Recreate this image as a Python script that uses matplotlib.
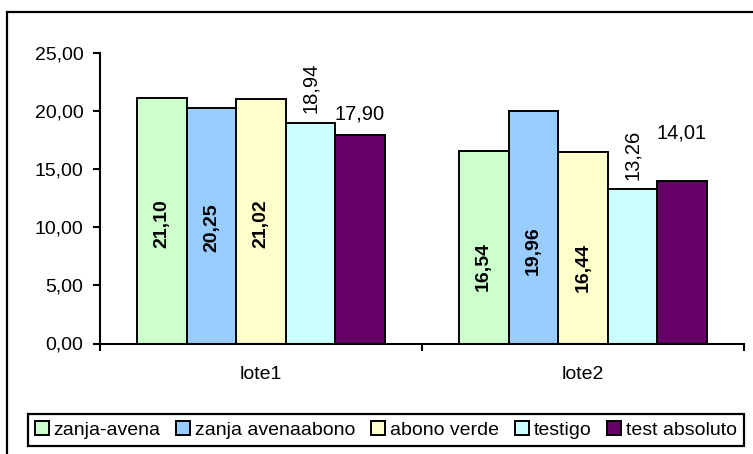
import matplotlib
matplotlib.use("Agg")
import matplotlib.pyplot as plt
from matplotlib.patches import Rectangle, Patch
from matplotlib.ticker import FixedLocator, FuncFormatter

plt.rcParams['font.family'] = ['Liberation Sans', 'DejaVu Sans']

# data
lotes = ['lote1', 'lote2']
series = ['zanja-avena', 'zanja avenaabono', 'abono verde', 'testigo', 'test absoluto']
zanja_avena = [21.10, 16.54]
zanja_avenaabono = [20.25, 19.96]
abono_verde = [21.02, 16.44]
testigo = [18.94, 13.26]
test_absoluto = [17.90, 14.01]
y_ticks = [0, 5, 10, 15, 20, 25]

values = [zanja_avena, zanja_avenaabono, abono_verde, testigo, test_absoluto]
colors = ['#CCFFCC', '#99CCFF', '#FFFFCC', '#CCFFFF', '#660066']

# where the inner labels sit (fraction of bar height) and the lift of the
# last series' label, per lote
inner_frac = [0.49, 0.40]
top_lift = [11.5, 30]

W, H = 753, 454
fig = plt.figure(figsize=(W / 100, H / 100), dpi=100)
fig.patch.set_facecolor('white')

# outer chart border (only left/top edges fall inside the image)
fig.patches.append(Rectangle((7 / W, -0.2), 1.2, 1.2 - 12 / H, transform=fig.transFigure,
                             fill=False, edgecolor='black', linewidth=1.6, zorder=0))

ax = fig.add_axes([100 / W, 1 - 343.5 / H, 643.7 / W, (343.5 - 52.7) / H])


def fmt(v):
    return f"{v:.2f}".replace('.', ',')


n = len(series)
bw = 1 / (n + 1.5)
for j, (name, vals, col) in enumerate(zip(series, values, colors)):
    xs = [i + 0.5 + (j - (n - 1) / 2) * bw for i in range(len(lotes))]
    ax.bar(xs, vals, width=bw, color=col, edgecolor='black', linewidth=1.4, label=name)
    for i, (x, v) in enumerate(zip(xs, vals)):
        if j < 3:
            ax.text(x, v * inner_frac[i], fmt(v), rotation=90, ha='center', va='center',
                    fontsize=14, fontweight='bold')
        elif j == 3:
            ax.annotate(fmt(v), (x, v), xytext=(0, 7), textcoords='offset points',
                        rotation=90, ha='center', va='bottom', fontsize=14.5)
        else:
            ax.annotate(fmt(v), (x, v), xytext=(0, top_lift[i]), textcoords='offset points',
                        ha='center', va='baseline', fontsize=14.5)

ax.set_xlim(0, len(lotes))
ax.set_ylim(0, 25)
ax.set_yticks(y_ticks)
ax.yaxis.set_major_formatter(FuncFormatter(lambda v, p: fmt(v)))
ax.tick_params(axis='y', direction='out', length=5, width=1.5, pad=7, labelsize=14)

ax.xaxis.set_major_locator(FixedLocator(range(len(lotes) + 1)))
ax.xaxis.set_minor_locator(FixedLocator([i + 0.5 for i in range(len(lotes))]))
ax.xaxis.set_major_formatter(FuncFormatter(lambda v, p: ''))
ax.set_xticklabels(lotes, minor=True)
ax.tick_params(axis='x', which='major', direction='out', length=5, width=1.5)
ax.tick_params(axis='x', which='minor', length=0, pad=16, labelsize=14)

for s in ['top', 'right']:
    ax.spines[s].set_visible(False)
for s in ['left', 'bottom']:
    ax.spines[s].set_linewidth(1.5)

handles = [Patch(facecolor=c, edgecolor='black', linewidth=1.4) for c in colors]
leg = fig.legend(handles, series, loc='center', bbox_to_anchor=(386 / W, 1 - 430 / H),
                 ncol=n, fontsize=14, frameon=True, fancybox=False, framealpha=1,
                 edgecolor='black', handlelength=0.72, handleheight=0.72,
                 handletextpad=0.26, columnspacing=0.8, borderpad=0.35,
                 borderaxespad=0)
leg.get_frame().set_linewidth(1.6)

fig.savefig('out.png', dpi=100)
